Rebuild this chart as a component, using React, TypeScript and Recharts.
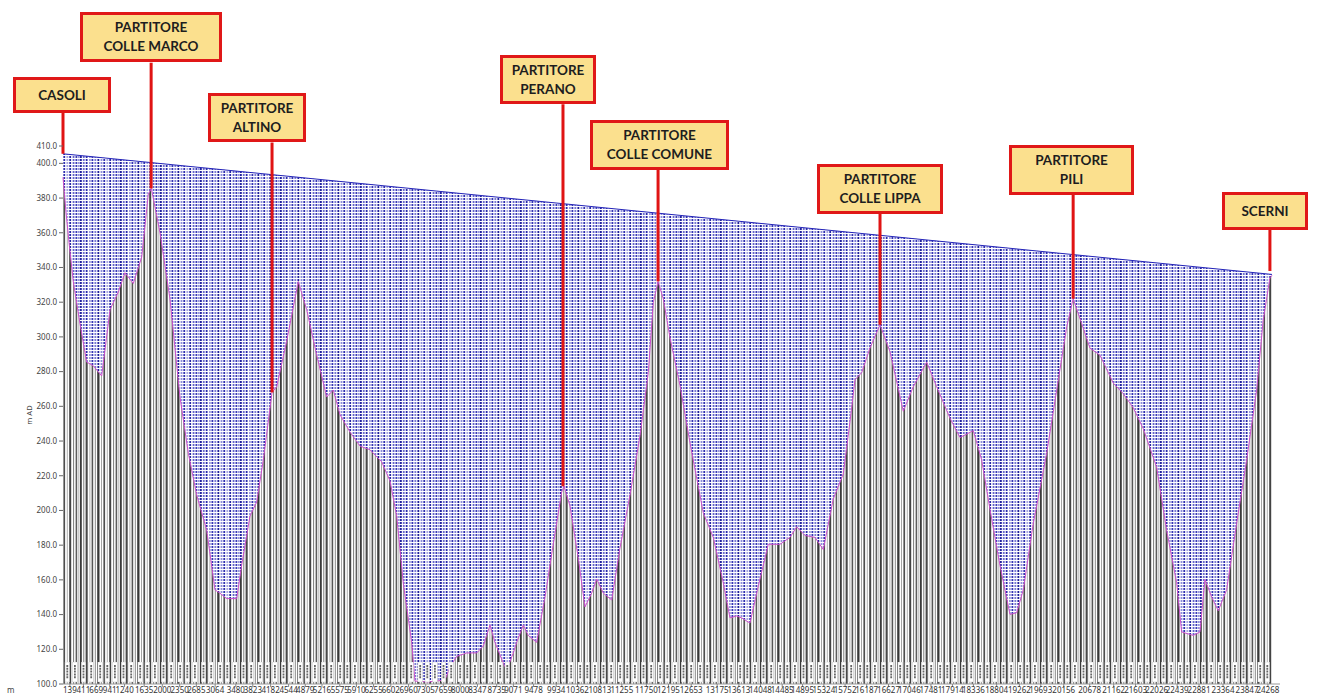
import React from 'react';
import { ComposedChart, Area, XAxis, YAxis, ReferenceLine, ReferenceArea } from 'recharts';

// progressive distance (m) of the profile break points
const distances = [
  0, 60, 130, 207, 340, 477, 610, 779, 947, 1114, 1249, 1416, 1585, 1718, 1780, 1954, 2155, 2356,
  2524, 2693, 2894, 3061, 3162, 3297, 3498, 3599, 3766, 3901, 4034, 4210, 4304, 4505, 4739, 4908,
  5109, 5311, 5444, 5579, 5780, 5982, 6183, 6419, 6586, 6721, 6854, 7023, 7089, 7357, 7693, 7794,
  7929, 8131, 8332, 8465, 8600, 8700, 8868, 8936, 9069, 9137, 9271, 9371, 9540, 9707, 9875, 10044,
  10090, 10211, 10378, 10513, 10648, 10749, 10882, 11051, 11218, 11420, 11621, 11788, 11889, 11985,
  12090, 12225, 12427, 12628, 12896, 13097, 13299, 13433, 13568, 13669, 13836, 14004, 14205, 14441,
  14642, 14777, 14944, 15145, 15313, 15514, 15715, 15850, 15951, 16086, 16253, 16455, 16656, 16924,
  17125, 17395, 17596, 17864, 18066, 18334, 18503, 18670, 18871, 19073, 19208, 19341, 19542, 19812,
  20013, 20215, 20345, 20517, 20684, 20885, 21153, 21354, 21556, 21757, 22027, 22228, 22430, 22530,
  22764, 22899, 22999, 23134, 23268, 23436, 23638, 23839, 24040, 24173, 24308, 24350,
];

// ground level (m a.s.l.) at each break point
const groundLevels = [
  392, 372, 352, 332, 308, 285.5, 283.4, 277.5, 315.7, 325.9, 337, 330.8, 346, 382.3, 385.5, 360, 321.8, 265.4,
  233, 208.9, 188.7, 154.3, 152.3, 149.2, 149.2, 168.6, 196.8, 204.9, 229, 268, 271.3, 297.6, 331.9, 315.7,
  289.6, 265.4, 269.4, 255.2, 245.2, 237.1, 235, 228, 217, 196.8, 158, 124, 101.7, 101.2, 102.3, 109.8,
  115.9, 117.9, 117.9, 121.9, 134, 124, 112, 108, 117.9, 124, 134, 128, 124, 150, 180.7, 210.6,
  214, 202.6, 172.6, 144.4, 152.4, 160.5, 152.4, 148.4, 178.4, 208.9, 243, 279.4, 319.8, 332,
  322, 299.6, 272, 239, 198.6, 184.5, 158.3, 138.1, 139.2, 138.1, 135.1, 156.5, 180.5, 180.5,
  184.5, 190.6, 185.6, 184.5, 177.5, 206.7, 221, 251.1, 275.3, 279.4, 293.6, 307, 291.5, 257.2,
  271.3, 285.5, 271.3, 253.2, 242, 246, 229, 200.7, 168.4, 140.1, 141.1, 154.3, 192.6, 233,
  269.3, 305.7, 322, 307.7, 293.5, 289.5, 273.4, 267.3, 259.2, 247.1, 224.9, 188.6, 158.3, 130,
  128, 130, 160.3, 150.2, 142.2, 154.3, 192.6, 229, 269.3, 309.7, 334, 335.5,
];

// piezometric line
const headDistances = [0, 24350];
const headLevels = [405.5, 336];

const distanceTicks = [
  139, 411, 669, 941, 1240, 1635, 2000, 2350, 2685, 3064, 3480, 3823, 4182, 4544, 4879, 5216, 5575,
  5910, 6255, 6602, 6960, 7305, 7659, 8000, 8347, 8735, 9071, 9478, 9934, 10362, 10813, 11255, 11750,
  12195, 12653, 13175, 13613, 14048, 14485, 14895, 15324, 15752, 16187, 16627, 17046, 17481, 17914,
  18336, 18804, 19262, 19693, 20156, 20678, 21162, 21603, 22026, 22439, 22881, 23364, 23847, 24268,
];

const levelTicks = [100, 120, 140, 160, 180, 200, 220, 240, 260, 280, 300, 320, 340, 360, 380, 400, 410];

const markerNames = [
  ['CASOLI'],
  ['PARTITORE', 'COLLE MARCO'],
  ['PARTITORE', 'ALTINO'],
  ['PARTITORE', 'PERANO'],
  ['PARTITORE', 'COLLE COMUNE'],
  ['PARTITORE', 'COLLE LIPPA'],
  ['PARTITORE', 'PILI'],
  ['SCERNI'],
];
const markerDistances = [0, 1775, 4210, 10070, 11985, 16455, 20345, 24308];
const markerLevels = [405.5, 385.5, 268, 214, 332, 307, 322, 338];

// callout boxes (page pixels) and where their leader line starts (m a.s.l.)
const boxes = [
  { left: 13, top: 77, width: 98, height: 36, top_level: 429 },
  { left: 80, top: 12, width: 142, height: 50, top_level: 458 },
  { left: 208, top: 93, width: 98, height: 49, top_level: 412 },
  { left: 500, top: 55, width: 96, height: 49, top_level: 434 },
  { left: 590, top: 120, width: 139, height: 50, top_level: 411 },
  { left: 817, top: 164, width: 126, height: 50, top_level: 387 },
  { left: 1009, top: 145, width: 125, height: 50, top_level: 397 },
  { left: 1222, top: 192, width: 86, height: 38, top_level: 362 },
];

// texture of the node verticals: [offset, width, grey, blue]
const STRIPES: [number, number, string, string][] = [
  [0, 1.8, '#3a3a3a', '#22229e'],
  [3.2, 1.1, '#8a8a8a', '#6c6cce'],
  [5.6, 2.1, '#484848', '#2c2cac'],
  [9.4, 1.0, '#adadad', '#9a9ae0'],
  [11.6, 1.6, '#555555', '#3434b4'],
  [14.8, 1.1, '#959595', '#7a7ad4'],
  [17.2, 2.3, '#383838', '#1e1e9a'],
  [21.0, 1.0, '#a4a4a4', '#8e8edc'],
  [23.4, 1.7, '#4e4e4e', '#3030b0'],
  [26.8, 1.1, '#b8b8b8', '#a4a4e4'],
  [29.2, 2.0, '#424242', '#2626a6'],
  [33.0, 1.1, '#868686', '#6464ca'],
  [35.6, 1.6, '#5c5c5c', '#3c3cb8'],
  [38.4, 0.9, '#aaaaaa', '#9494de'],
];
const TAGS = [1.2, 8.9, 17.9, 25.0, 32.6];

const profile = distances.map((d, i) => ({ d, ground: groundLevels[i] }));
const headLine = headDistances.map((d, i) => ({ d, head: headLevels[i] }));

const FONT = '"Noto Sans", "DejaVu Sans", sans-serif';
const NARROW = '"Liberation Sans Narrow", "Noto Sans", sans-serif';

export default function App() {
  return (
    <div style={{ position: 'absolute', left: 0, top: 0, width: 1320, height: 696, background: '#fff' }}>
      <ComposedChart width={1320} height={696} margin={{ top: 146, right: 0, bottom: 0, left: 0 }}>
        <defs>
          <pattern id="groundHatch" patternUnits="userSpaceOnUse" width={40} height={8}>
            <rect width={40} height={8} fill="#fff" />
            {STRIPES.map(([x, w, c], i) => (
              <rect key={i} x={x} y={0} width={w} height={8} fill={c} />
            ))}
          </pattern>
          <pattern id="airHatch" patternUnits="userSpaceOnUse" width={40} height={3}>
            <rect width={40} height={3} fill="#fff" />
            {STRIPES.map(([x, w, , b], i) => (
              <rect key={i} x={x + w / 2 - 0.9} y={0} width={1.8} height={2} fill={b} />
            ))}
          </pattern>
          <pattern id="tagStrip" patternUnits="userSpaceOnUse" x={0} y={662} width={40} height={21}>
            {TAGS.map((x, i) => (
              <g key={i}>
                <rect x={x} y={0} width={4.6} height={20} fill="#fff" stroke="#bbb" strokeWidth={0.4} />
                <line x1={x + 2.3} x2={x + 2.3} y1={3} y2={17} stroke="#666" strokeWidth={1.8} strokeDasharray="2 0.8" />
              </g>
            ))}
          </pattern>
        </defs>
        <XAxis
          dataKey="d"
          type="number"
          domain={[0, 24350]}
          ticks={distanceTicks}
          interval={0}
          padding={{ left: 0, right: 8 }}
          height={12}
          tickSize={3}
          tickMargin={0}
          axisLine={{ stroke: '#999' }}
          tickLine={{ stroke: '#888' }}
          tick={{ fontSize: 8, fill: '#333', fontFamily: NARROW }}
        />
        <YAxis
          type="number"
          domain={[100, 410]}
          ticks={levelTicks}
          interval={0}
          width={63}
          axisLine={false}
          tickSize={4}
          tickMargin={2}
          tickLine={{ stroke: '#666' }}
          tickFormatter={(v: number) => v.toFixed(1)}
          tick={{ fontSize: 8, fill: '#444', fontFamily: FONT }}
          label={{ value: 'm AD', angle: -90, position: 'center', dx: -2, style: { fontSize: 7.5, fill: '#444', fontFamily: FONT } }}
        />
        <YAxis
          yAxisId="right"
          orientation="right"
          type="number"
          domain={[100, 410]}
          ticks={levelTicks}
          interval={0}
          width={40}
          axisLine={false}
          tick={false}
          tickSize={5}
          tickLine={{ stroke: '#888' }}
        />
        <Area
          data={headLine}
          dataKey="head"
          type="linear"
          stroke="#2424b8"
          strokeWidth={1}
          fill="url(#airHatch)"
          fillOpacity={1}
          dot={false}
          activeDot={false}
          isAnimationActive={false}
        />
        <Area
          data={profile}
          dataKey="ground"
          type="linear"
          stroke="#cc4fcc"
          strokeWidth={1}
          fill="url(#groundHatch)"
          fillOpacity={1}
          dot={false}
          activeDot={false}
          isAnimationActive={false}
        />
        <ReferenceArea x1={0} x2={24350} y1={100.6} y2={112.7} fill="url(#tagStrip)" fillOpacity={1} stroke="none" />
        {markerDistances.map((d, i) => (
          <ReferenceLine
            key={i}
            segment={[{ x: d, y: markerLevels[i] }, { x: d, y: boxes[i].top_level }]}
            stroke="#e01414"
            strokeWidth={3}
            ifOverflow="visible"
          />
        ))}
      </ComposedChart>
      {boxes.map((b, i) => (
        <div
          key={i}
          style={{
            position: 'absolute',
            left: b.left,
            top: b.top,
            width: b.width,
            height: b.height,
            boxSizing: 'border-box',
            background: '#fbe08e',
            border: '3px solid #e01818',
            display: 'flex',
            flexDirection: 'column',
            alignItems: 'center',
            justifyContent: 'center',
            fontFamily: 'Lato, "Open Sans", sans-serif',
            fontWeight: 700,
            fontSize: 13.5,
            lineHeight: '19px',
            color: '#1e1e1e',
          }}
        >
          {markerNames[i].map((t, j) => (
            <div key={j}>{t}</div>
          ))}
        </div>
      ))}
      <div style={{ position: 'absolute', left: 7, top: 684, fontSize: 8, color: '#444', fontFamily: FONT }}>m</div>
    </div>
  );
}
